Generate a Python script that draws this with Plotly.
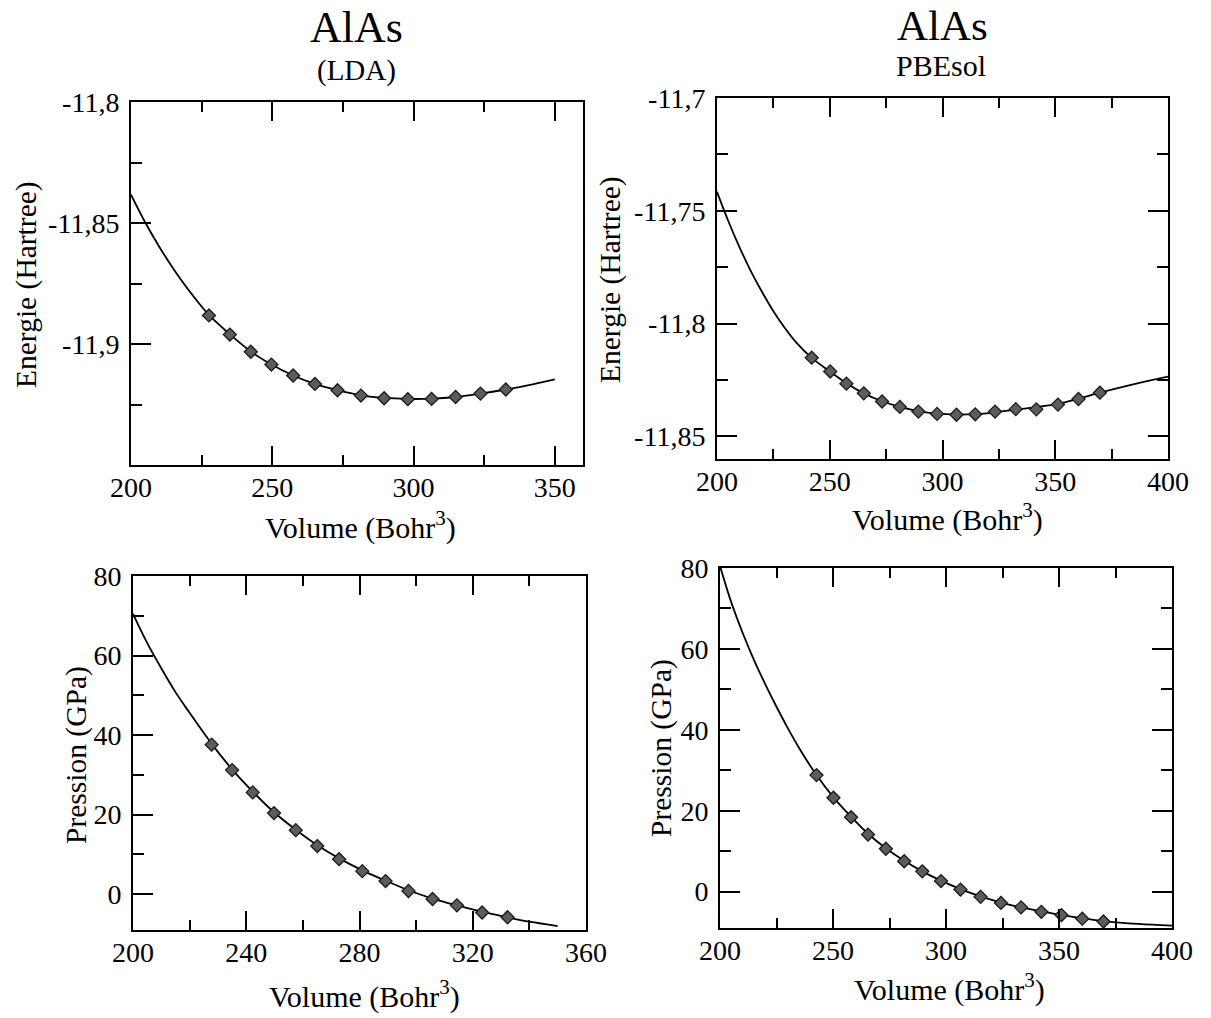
import plotly.graph_objects as go

# ---------------- data ----------------
# LDA energy
lda_v = [227.6, 235.0, 242.4, 249.7, 257.4, 265.1, 273.1, 281.4, 289.6, 298.0, 306.4, 314.9, 323.7, 332.7]
lda_e = [-11.8882, -11.8961, -11.9032, -11.9085, -11.9130, -11.9165, -11.9191, -11.9213,
         -11.9224, -11.9228, -11.9227, -11.9219, -11.9205, -11.9188]
lda_fit_v = [200, 205, 210, 215, 220, 227.6, 235.0, 242.4, 249.7, 257.4, 265.1, 273.1, 281.4,
             289.6, 298.0, 306.4, 314.9, 323.7, 332.7, 340, 350]
lda_fit_e = [-11.8383, -11.8497, -11.8598, -11.8689, -11.8771, -11.8880, -11.8960, -11.9031,
             -11.9085, -11.9130, -11.9165, -11.9191, -11.9212, -11.9223, -11.9227, -11.9226,
             -11.9219, -11.9205, -11.9188, -11.9172, -11.9146]

# LDA pressure
lda_pv = [227.8, 235.0, 242.3, 249.8, 257.5, 265.1, 272.8, 281.0, 289.2, 297.3, 305.8, 314.4, 323.3, 332.3]
lda_p = [37.6, 31.2, 25.6, 20.4, 16.1, 12.1, 8.8, 5.8, 3.3, 0.8, -1.2, -2.8, -4.6, -5.8]
lda_fit_pv = [200, 205, 210, 215, 220, 227.8, 235.0, 242.3, 249.8, 257.5, 265.1, 272.8, 281.0,
              289.2, 297.3, 305.8, 314.4, 323.3, 332.3, 340, 350]
lda_fit_p = [70.5, 63.2, 56.8, 50.8, 45.6, 37.8, 31.4, 25.8, 20.6, 16.2, 12.3, 9.0, 6.0,
             3.4, 1.0, -1.1, -2.8, -4.4, -5.8, -6.9, -8.0]

# PBEsol energy
pbe_v = [242.0, 250.2, 257.4, 265.1, 273.2, 281.1, 289.3, 297.6, 306.2, 314.5, 323.3, 332.5,
         341.6, 351.2, 360.3, 369.8]
pbe_e = [-11.8151, -11.8212, -11.8266, -11.8309, -11.8345, -11.8369, -11.8390, -11.8400,
         -11.8404, -11.8402, -11.8390, -11.8379, -11.8380, -11.8359, -11.8334, -11.8306]
pbe_fit_v = [200, 205, 210, 215, 220, 225, 230, 235, 242.0, 250.2, 257.4, 265.1, 273.2, 281.1,
             289.3, 297.6, 306.2, 314.5, 323.3, 332.5, 341.6, 351.2, 360.3, 369.8, 385, 400]
pbe_fit_e = [-11.7416, -11.7545, -11.7662, -11.7767, -11.7860, -11.7945, -11.8018, -11.8082,
             -11.8152, -11.8213, -11.8264, -11.8309, -11.8344, -11.8369, -11.8388, -11.8399,
             -11.8403, -11.8401, -11.8393, -11.8381, -11.8370, -11.8356, -11.8333, -11.8306,
             -11.8268, -11.8235]

# PBEsol pressure
pbe_pv = [242.7, 250.2, 258.0, 265.5, 273.4, 281.5, 289.5, 297.8, 306.4, 315.3, 324.3, 333.2,
          342.2, 351.1, 360.3, 369.7]
pbe_p = [28.8, 23.2, 18.4, 14.1, 10.6, 7.5, 5.0, 2.6, 0.5, -1.3, -2.8, -3.9, -5.0, -5.8, -6.7, -7.4]
pbe_fit_pv = [200, 205, 210, 215, 220, 225, 230, 235, 242.7, 250.2, 258.0, 265.5, 273.4, 281.5,
              289.5, 297.8, 306.4, 315.3, 324.3, 333.2, 342.2, 351.1, 360.3, 369.7, 385, 400]
pbe_fit_p = [80.5, 71.5, 64.0, 57.3, 51.3, 45.7, 40.4, 35.5, 28.8, 23.3, 18.5, 14.3, 10.7, 7.6,
             5.0, 2.7, 0.6, -1.2, -2.7, -3.9, -4.9, -5.8, -6.6, -7.3, -8.0, -8.4]

# tick labels
e1_vals = [-11.9, -11.85, -11.8]
e1_text = ["-11,9", "-11,85", "-11,8"]
e2_vals = [-11.85, -11.8, -11.75, -11.7]
e2_text = ["-11,85", "-11,8", "-11,75", "-11,7"]
p_vals = [0, 20, 40, 60, 80]
p_text = ["0", "20", "40", "60", "80"]

# ---------------- figure ----------------
W, H = 1211, 1018
FONT = "Liberation Serif"
fig = go.Figure()

def add_panel(n, xv, yv, fx, fy):
    xa = "x" if n == 1 else f"x{n}"
    ya = "y" if n == 1 else f"y{n}"
    fig.add_trace(go.Scatter(x=fx, y=fy, mode="lines", line=dict(color="black", width=1.8, shape="spline", smoothing=1.0),
                             xaxis=xa, yaxis=ya, showlegend=False, hoverinfo="skip"))
    fig.add_trace(go.Scatter(x=xv, y=yv, mode="markers",
                             marker=dict(symbol="diamond", size=10, color="#5c5c5c", line=dict(color="#1a1a1a", width=1.3)),
                             xaxis=xa, yaxis=ya, showlegend=False))

add_panel(1, lda_v, lda_e, lda_fit_v, lda_fit_e)
add_panel(2, pbe_v, pbe_e, pbe_fit_v, pbe_fit_e)
add_panel(3, lda_pv, lda_p, lda_fit_pv, lda_fit_p)
add_panel(4, pbe_pv, pbe_p, pbe_fit_pv, pbe_fit_p)

def px_dom_x(a, b):
    return [a / W, b / W]

def px_dom_y(top, bottom):
    return [1 - bottom / H, 1 - top / H]

tickfont = dict(family=FONT, size=28, color="black")

def xaxis(dom, anchor, rng, dtick, minor_dtick):
    return dict(domain=dom, anchor=anchor, range=rng, tick0=200, dtick=dtick,
                ticks="inside", ticklen=19, tickwidth=2, tickcolor="black",
                minor=dict(ticks="inside", ticklen=10, tickwidth=2, tickcolor="black", dtick=minor_dtick, tick0=200),
                showline=True, linecolor="black", linewidth=2, mirror="ticks", automargin=False,
                showgrid=False, zeroline=False, tickfont=tickfont, ticklabelstandoff=-4)

def yaxis(dom, anchor, rng, vals, text, minor_vals, mirror):
    return dict(domain=dom, anchor=anchor, range=rng, tickmode="array", tickvals=vals, ticktext=text,
                ticks="inside", ticklen=20, tickwidth=2, tickcolor="black",
                minor=dict(ticks="inside", ticklen=11, tickwidth=2, tickcolor="black", tickmode="array", tickvals=minor_vals),
                showline=True, linecolor="black", linewidth=2, mirror=mirror, automargin=False,
                showgrid=False, zeroline=False, tickfont=tickfont, ticklabelstandoff=4)

fig.update_layout(
    width=W, height=H,
    margin=dict(l=0, r=0, t=0, b=0, pad=0, autoexpand=False),
    paper_bgcolor="white", plot_bgcolor="white",
    font=dict(family=FONT, color="black"),
    xaxis=xaxis(px_dom_x(131, 583), "y", [200, 360], 50, 25),
    yaxis=yaxis(px_dom_y(102, 465), "x", [-11.95, -11.8], e1_vals, e1_text, [-11.925, -11.875, -11.825], True),
    xaxis2=xaxis(px_dom_x(717, 1168), "y2", [200, 400], 50, 25),
    yaxis2=yaxis(px_dom_y(98, 459), "x2", [-11.86, -11.7], e2_vals, e2_text, [-11.825, -11.775, -11.725], "ticks"),
    xaxis3=xaxis(px_dom_x(133, 586), "y3", [200, 360], 40, 20),
    yaxis3=yaxis(px_dom_y(576, 930), "x3", [-9, 80], p_vals, p_text, [10, 30, 50, 70], True),
    xaxis4=xaxis(px_dom_x(720, 1172), "y4", [200, 400], 50, 25),
    yaxis4=yaxis(px_dom_y(568, 928), "x4", [-9, 80], p_vals, p_text, [10, 30, 50, 70], "ticks"),
)

def ann(text, x, y, size, angle=0, yanchor="middle"):
    fig.add_annotation(text=text, x=x / W, y=1 - y / H, xref="paper", yref="paper",
                       showarrow=False, textangle=angle, xanchor="center", yanchor=yanchor,
                       font=dict(family=FONT, size=size, color="black"))

ann("AlAs", 356, 28, 44)
ann("(LDA)", 356, 70, 29)
ann("AlAs", 942, 0, 43, yanchor="top")
ann("PBEsol", 941, 66, 30)

ann("Energie (Hartree)", 26, 285, 29.5, -90)
ann("Energie (Hartree)", 611, 280, 29.5, -90)
ann("Pression (GPa)", 76, 755, 29.5, -90)
ann("Pression (GPa)", 661, 748, 29.5, -90)

ann("Volume (Bohr<sup>3</sup>)", 360, 525, 30)
ann("Volume (Bohr<sup>3</sup>)", 947, 517, 30)
ann("Volume (Bohr<sup>3</sup>)", 364, 994, 30)
ann("Volume (Bohr<sup>3</sup>)", 949, 987, 30)

fig.write_html("out.html")
